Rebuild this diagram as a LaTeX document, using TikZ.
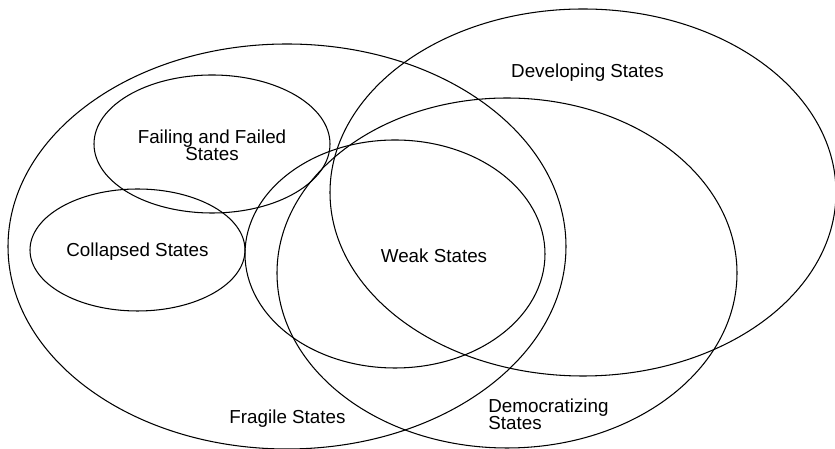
\documentclass[tikz,border=0pt]{standalone}
\usepackage{fontspec}
\setmainfont{Liberation Sans}
\usepackage{tikz}

\begin{document}
\begin{tikzpicture}[
        insieme/.style={line width=0.6pt},
        etichetta/.style={font=\fontsize{10.7}{9.8}\selectfont, inner sep=0pt}
    ]
        \useasboundingbox (0, 0) rectangle (16.7, 8.98);

        % Centri degli insiemi
        \coordinate (Fragile) at (5.74, 4.05);
        \coordinate (Developing) at (11.66, 5.13);
        \coordinate (Democratizing) at (10.14, 3.52);
        \coordinate (Weak) at (7.9, 3.9);
        \coordinate (Failing) at (4.24, 6.10);
        \coordinate (Collapsed) at (2.75, 3.98);

        \draw[insieme] (Fragile) ellipse (5.58 and 4.05);
        \draw[insieme] (Developing) ellipse (5.06 and 3.67);
        \draw[insieme] (Democratizing) ellipse (4.6 and 3.5);
        \draw[insieme] (Weak) ellipse (3.0 and 2.28);
        \draw[insieme] (Failing) ellipse (2.36 and 1.38);
        \draw[insieme] (Collapsed) ellipse (2.15 and 1.22);

        \node[etichetta] (developingLabel) at (11.75, 7.52) {Developing States};
        \node[etichetta, align=center] (failingLabel) at (4.24, 6.07) {Failing and Failed\\States};
        \node[etichetta] (collapsedLabel) at (2.75, 3.95) {Collapsed States};
        \node[etichetta] (weakLabel) at (8.68, 3.87) {Weak States};
        \node[etichetta] (fragileLabel) at (5.75, 0.60) {Fragile States};
        \node[etichetta, align=left, anchor=west] (democratizingLabel) at (9.76, 0.70) {Democratizing\\States};
    \end{tikzpicture}
\end{document}
